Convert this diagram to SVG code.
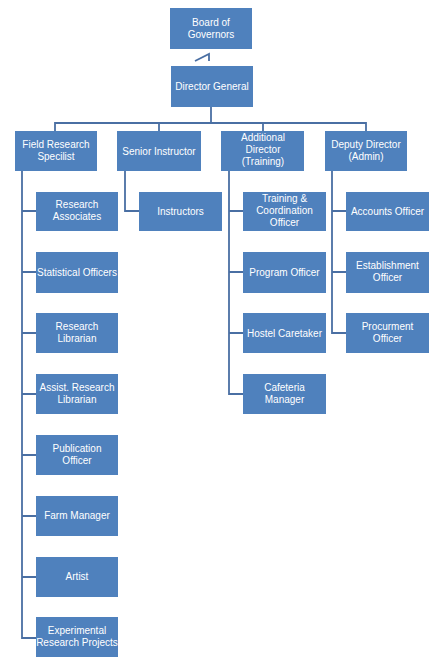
<svg xmlns="http://www.w3.org/2000/svg" width="442" height="668" viewBox="0 0 442 668">
<style>
.b{fill:#4f81bd}
.t{font-family:"Liberation Sans",Arial,sans-serif;font-size:10px;fill:#ffffff;text-anchor:middle}
.c{fill:none;stroke:#4a6fa3;stroke-width:1.8}
</style>
<rect width="442" height="668" fill="#ffffff"/>
<g id="connectors" class="c">
<path d="M195,61 L209,54 L209,61"/>
<path d="M211,107 V123"/>
<path d="M55,131 V123 H366 V131"/>
<path d="M159,123 V131"/>
<path d="M263,123 V131"/>
<path d="M22,171 V638 H36"/>
<path d="M22,211 H36 M22,272 H36 M22,333 H36 M22,394 H36 M22,455 H36 M22,516 H36 M22,577 H36"/>
<path d="M125,171 V211 H139"/>
<path d="M229,171 V394 H243 M229,211 H243 M229,272 H243 M229,333 H243"/>
<path d="M332,171 V333 H346 M332,211 H346 M332,272 H346"/>
</g>
<g id="board"><rect class="b" x="170" y="8" width="82" height="41"/><text class="t" x="211" y="26">Board of</text><text class="t" x="211" y="38">Governors</text></g>
<g id="dg"><rect class="b" x="171" y="66" width="82" height="41"/><text class="t" x="212" y="90">Director General</text></g>
<g id="frs"><rect class="b" x="15" y="131" width="82" height="40"/><text class="t" x="56" y="148">Field Research</text><text class="t" x="56" y="160">Specilist</text></g>
<g id="si"><rect class="b" x="117" y="131" width="84" height="40"/><text class="t" x="159" y="155">Senior Instructor</text></g>
<g id="ad"><rect class="b" x="221" y="131" width="83" height="40"/><text class="t" x="263" y="141">Additional</text><text class="t" x="263" y="153">Director</text><text class="t" x="263" y="165">(Training)</text></g>
<g id="dd"><rect class="b" x="325" y="131" width="82" height="40"/><text class="t" x="366" y="148">Deputy Director</text><text class="t" x="366" y="160">(Admin)</text></g>
<g id="ra"><rect class="b" x="36" y="192" width="82" height="39"/><text class="t" x="77" y="208">Research</text><text class="t" x="77" y="220">Associates</text></g>
<g id="so"><rect class="b" x="36" y="252" width="82" height="41"/><text class="t" x="77" y="276">Statistical Officers</text></g>
<g id="rl"><rect class="b" x="36" y="313" width="82" height="40"/><text class="t" x="77" y="330">Research</text><text class="t" x="77" y="342">Librarian</text></g>
<g id="arl"><rect class="b" x="36" y="374" width="82" height="40"/><text class="t" x="77" y="391">Assist. Research</text><text class="t" x="77" y="403">Librarian</text></g>
<g id="po"><rect class="b" x="36" y="435" width="82" height="40"/><text class="t" x="77" y="452">Publication</text><text class="t" x="77" y="464">Officer</text></g>
<g id="fm"><rect class="b" x="36" y="496" width="82" height="40"/><text class="t" x="77" y="519">Farm Manager</text></g>
<g id="artist"><rect class="b" x="36" y="557" width="82" height="40"/><text class="t" x="77" y="580">Artist</text></g>
<g id="erp"><rect class="b" x="36" y="617" width="82" height="40"/><text class="t" x="77" y="634">Experimental</text><text class="t" x="77" y="646">Research Projects</text></g>
<g id="instr"><rect class="b" x="139" y="192" width="83" height="39"/><text class="t" x="180.5" y="215">Instructors</text></g>
<g id="tco"><rect class="b" x="243" y="192" width="83" height="39"/><text class="t" x="284.5" y="202">Training &amp;</text><text class="t" x="284.5" y="214">Coordination</text><text class="t" x="284.5" y="226">Officer</text></g>
<g id="prog"><rect class="b" x="243" y="252" width="83" height="41"/><text class="t" x="284.5" y="276">Program Officer</text></g>
<g id="hc"><rect class="b" x="243" y="313" width="83" height="40"/><text class="t" x="284.5" y="337">Hostel Caretaker</text></g>
<g id="cm"><rect class="b" x="243" y="374" width="83" height="40"/><text class="t" x="284.5" y="391">Cafeteria</text><text class="t" x="284.5" y="403">Manager</text></g>
<g id="ao"><rect class="b" x="346" y="192" width="83" height="39"/><text class="t" x="387.5" y="215">Accounts Officer</text></g>
<g id="eo"><rect class="b" x="346" y="252" width="83" height="41"/><text class="t" x="387.5" y="269">Establishment</text><text class="t" x="387.5" y="281">Officer</text></g>
<g id="pro"><rect class="b" x="346" y="313" width="83" height="40"/><text class="t" x="387.5" y="330">Procurment</text><text class="t" x="387.5" y="342">Officer</text></g>
</svg>
